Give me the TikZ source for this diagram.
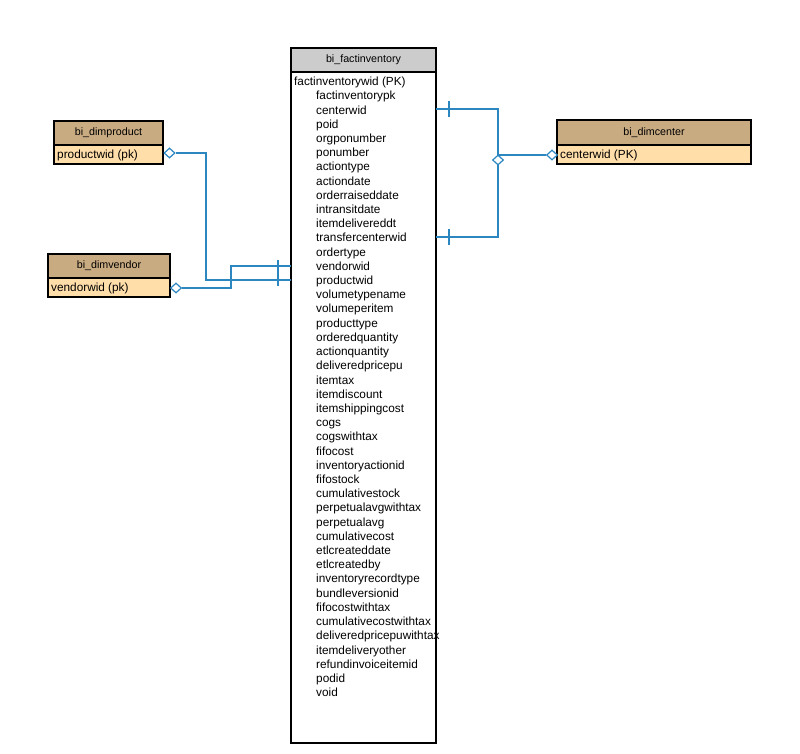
\documentclass[tikz,border=0pt]{standalone}
\usepackage{fontspec}
\setmainfont{Liberation Sans}
\usetikzlibrary{shapes.geometric}
\definecolor{tan}{HTML}{C9AB82}
\definecolor{peach}{HTML}{FFDEAA}
\definecolor{hgray}{HTML}{CCCCCC}
\definecolor{conn}{HTML}{2C86BF}
\tikzset{
  tbox/.style={draw=black, line width=1.2pt, anchor=north west, inner sep=0pt, outer sep=0pt},
  hdr/.style={tbox, font=\fontsize{10.7}{12}\selectfont},
  rowtxt/.style={anchor=west, inner sep=0pt, text height=8.6pt, text depth=2.4pt, font=\fontsize{11.8}{13}\selectfont},
  link/.style={draw=conn, line width=1.6pt},
  tick/.style={draw=conn, line width=1.3pt},
  odiam/.style={diamond, draw=conn, fill=white, line width=1.2pt, inner sep=0pt, minimum width=11pt, minimum height=10pt, aspect=1.1}
}
\begin{document}
\begin{tikzpicture}[x=1pt,y=-1pt]
\useasboundingbox[fill=white] (0,0) rectangle (800,753);
% main table
\node[hdr, fill=hgray, minimum width=145pt, minimum height=24pt] (facthead) at (291,48) {bi\_factinventory};
\node[tbox, fill=white, minimum width=145pt, minimum height=671pt] (factbody) at (291,72) {};
\node[rowtxt] (r0) at (294,82.5) {factinventorywid (PK)};
\foreach [count=\i] \t in {factinventorypk,centerwid,poid,orgponumber,ponumber,actiontype,actiondate,orderraiseddate,intransitdate,itemdelivereddt,transfercenterwid,ordertype,vendorwid,productwid,volumetypename,volumeperitem,producttype,orderedquantity,actionquantity,deliveredpricepu,itemtax,itemdiscount,itemshippingcost,cogs,cogswithtax,fifocost,inventoryactionid,fifostock,cumulativestock,perpetualavgwithtax,perpetualavg,cumulativecost,etlcreateddate,etlcreatedby,inventoryrecordtype,bundleversionid,fifocostwithtax,cumulativecostwithtax,deliveredpricepuwithtax,itemdeliveryother,refundinvoiceitemid,podid,void}
  \node[rowtxt] (r\i) at (316,{82.5+14.21*\i}) {\t};
% dim product
\node[hdr, fill=tan, minimum width=109pt, minimum height=24pt] (prodhead) at (54,121) {bi\_dimproduct};
\node[tbox, fill=peach, minimum width=109pt, minimum height=19pt] (prodrow) at (54,145) {};
\node[rowtxt] (prodtxt) at (57,155) {productwid (pk)};
% dim vendor
\node[hdr, fill=tan, minimum width=122pt, minimum height=24pt] (vendhead) at (48,254) {bi\_dimvendor};
\node[tbox, fill=peach, minimum width=122pt, minimum height=19pt] (vendrow) at (48,278) {};
\node[rowtxt] (vendtxt) at (51,288) {vendorwid (pk)};
% dim center
\node[hdr, fill=tan, minimum width=194pt, minimum height=25pt] (centhead) at (557,120) {bi\_dimcenter};
\node[tbox, fill=peach, minimum width=194pt, minimum height=19pt] (centrow) at (557,145) {};
\node[rowtxt] (centtxt) at (560,155) {centerwid (PK)};
% connector points
\coordinate (pj1) at (206,153);
\coordinate (vj1) at (231,288);
\coordinate (cj) at (498,155);
\coordinate (yv) at (0,266);
\coordinate (yp) at (0,280);
\coordinate (yc) at (0,109);
\coordinate (yt) at (0,237);
% product -> productwid
\node[odiam] (pd) at (169.5,153) {};
\draw[link] (pd.east) -- (pj1) -- (pj1 |- yp) -- (factbody.west |- yp);
% vendor -> vendorwid
\node[odiam] (vd) at (176,288) {};
\draw[link] (vd.east) -- (vj1) -- (vj1 |- yv) -- (factbody.west |- yv);
\draw[tick] (278,260) -- (278,286);
% center -> centerwid / transfercenterwid
\node[odiam] (cd) at (552,155) {};
\draw[link] (cd.west) -- (cj);
\draw[link] (factbody.east |- yc) -- (cj |- yc) -- (cj |- yt) -- (factbody.east |- yt);
\draw[tick] (449,101) -- (449,117);
\draw[tick] (449,229) -- (449,245);
\node[odiam] (cd2) at (498,160) {};
\end{tikzpicture}
\end{document}
